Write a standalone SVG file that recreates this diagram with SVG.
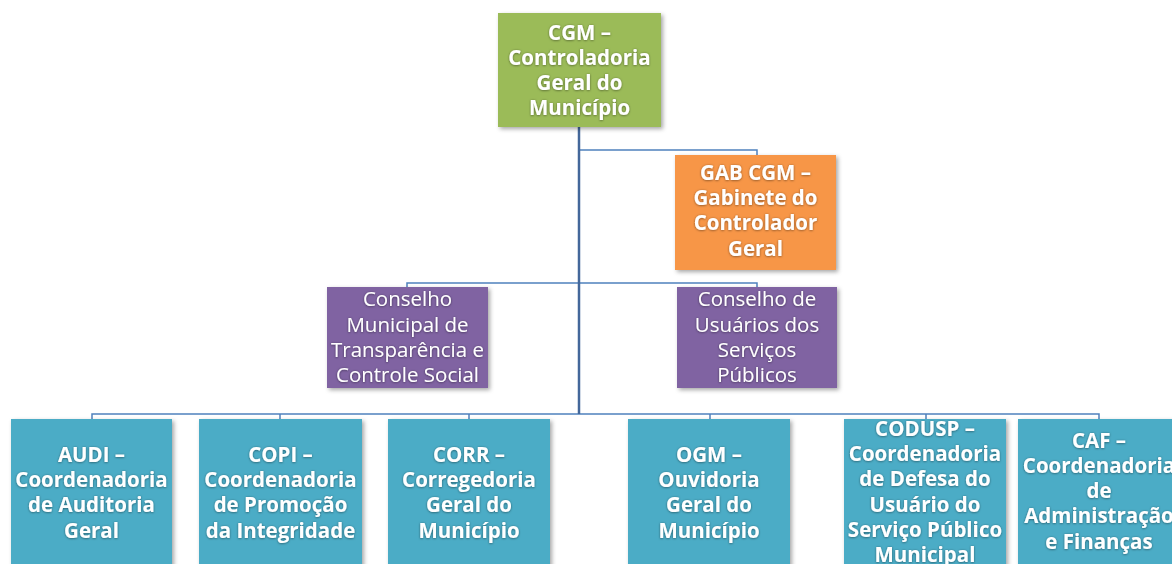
<svg xmlns="http://www.w3.org/2000/svg" width="1172" height="564" viewBox="0 0 1172 564">
<defs>
<style>
.box{stroke:none;filter:url(#sh)}
.g{fill:#9BBB59}.o{fill:#F79646}.p{fill:#8064A2}.t{fill:#4BACC6}
.tx{font-family:"Open Sans",Lato,sans-serif;font-size:20.5px;fill:#fff;text-anchor:middle;filter:url(#gl)}
.b{font-weight:bold}
.ln{fill:none;stroke:#4F81BD;stroke-width:1.5}
.tr{fill:none;stroke:#43679A;stroke-width:2.5}
</style>
<filter id="sh" x="-10%" y="-10%" width="130%" height="130%"><feDropShadow dx="2" dy="2" stdDeviation="2" flood-color="#000" flood-opacity="0.35"/></filter>
<filter id="gl" x="-10%" y="-30%" width="120%" height="160%"><feDropShadow dx="0" dy="0.5" stdDeviation="1" flood-color="#000" flood-opacity="0.5"/></filter>
</defs>
<rect width="1172" height="564" fill="#fff"/>
<g id="connectors">
<path class="ln" d="M579 150H757V155"/>
<path class="ln" d="M407 287V283H757V287"/>
<path class="ln" d="M92 419V414H1099V419M280 414V419M469 414V419M710 414V419M926 414V419"/>
<path class="tr" d="M579 127V414"/>
</g>
<g id="cgm"><rect class="box g" x="498" y="13" width="163" height="114"/>
<text class="tx b"><tspan x="579.5" y="40">CGM –</tspan><tspan x="579.5" y="65">Controladoria</tspan><tspan x="579.5" y="90">Geral do</tspan><tspan x="579.5" y="115">Município</tspan></text></g>
<g id="gab"><rect class="box o" x="675" y="155" width="161" height="115"/>
<text class="tx b"><tspan x="755.5" y="180">GAB CGM –</tspan><tspan x="755.5" y="205">Gabinete do</tspan><tspan x="755.5" y="230">Controlador</tspan><tspan x="755.5" y="256">Geral</tspan></text></g>
<g id="cmtcs"><rect class="box p" x="327" y="287" width="161" height="101"/>
<text class="tx"><tspan x="407.5" y="306">Conselho</tspan><tspan x="407.5" y="332">Municipal de</tspan><tspan x="407.5" y="357">Transparência e</tspan><tspan x="407.5" y="382">Controle Social</tspan></text></g>
<g id="cusp"><rect class="box p" x="677" y="287" width="160" height="101"/>
<text class="tx"><tspan x="757" y="306">Conselho de</tspan><tspan x="757" y="332">Usuários dos</tspan><tspan x="757" y="357">Serviços</tspan><tspan x="757" y="382">Públicos</tspan></text></g>
<g id="audi"><rect class="box t" x="11" y="419" width="161" height="150"/>
<text class="tx b"><tspan x="91.5" y="462">AUDI –</tspan><tspan x="91.5" y="487">Coordenadoria</tspan><tspan x="91.5" y="512">de Auditoria</tspan><tspan x="91.5" y="538">Geral</tspan></text></g>
<g id="copi"><rect class="box t" x="199" y="419" width="163" height="150"/>
<text class="tx b"><tspan x="280.5" y="462">COPI –</tspan><tspan x="280.5" y="487">Coordenadoria</tspan><tspan x="280.5" y="512">de Promoção</tspan><tspan x="280.5" y="538">da Integridade</tspan></text></g>
<g id="corr"><rect class="box t" x="388" y="419" width="162" height="150"/>
<text class="tx b"><tspan x="469" y="462">CORR –</tspan><tspan x="469" y="487">Corregedoria</tspan><tspan x="469" y="512">Geral do</tspan><tspan x="469" y="538">Município</tspan></text></g>
<g id="ogm"><rect class="box t" x="628" y="419" width="162" height="150"/>
<text class="tx b"><tspan x="709" y="462">OGM –</tspan><tspan x="709" y="487">Ouvidoria</tspan><tspan x="709" y="512">Geral do</tspan><tspan x="709" y="538">Município</tspan></text></g>
<g id="codusp"><rect class="box t" x="844" y="419" width="162" height="150"/>
<text class="tx b"><tspan x="925" y="436">CODUSP –</tspan><tspan x="925" y="461">Coordenadoria</tspan><tspan x="925" y="486">de Defesa do</tspan><tspan x="925" y="512">Usuário do</tspan><tspan x="925" y="537">Serviço Público</tspan><tspan x="925" y="562">Municipal</tspan></text></g>
<g id="caf"><rect class="box t" x="1018" y="419" width="162" height="150"/>
<text class="tx b"><tspan x="1099" y="448">CAF –</tspan><tspan x="1099" y="473">Coordenadoria</tspan><tspan x="1099" y="498">de</tspan><tspan x="1099" y="523">Administração</tspan><tspan x="1099" y="549">e Finanças</tspan></text></g>
</svg>
